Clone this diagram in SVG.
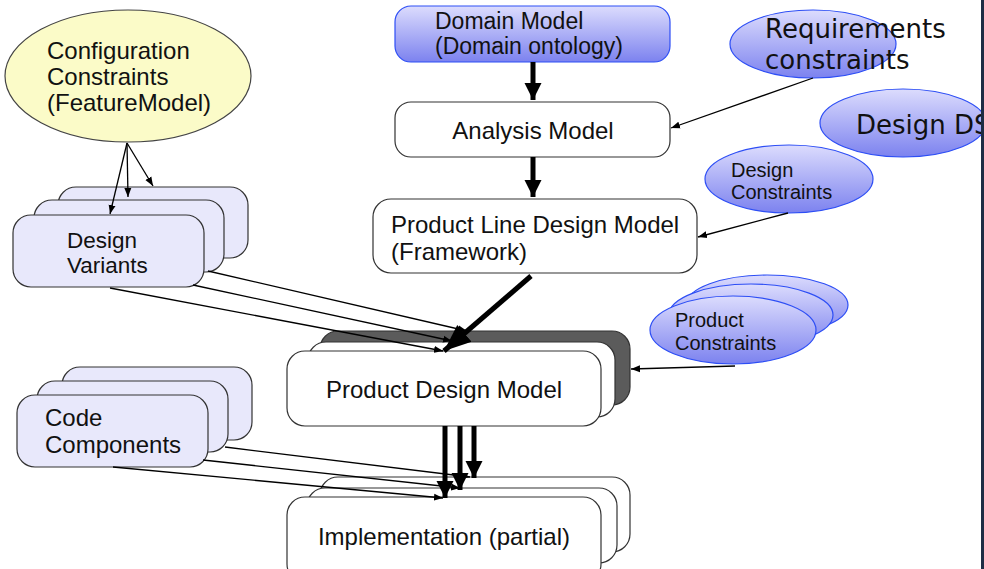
<svg xmlns="http://www.w3.org/2000/svg" width="984" height="569" viewBox="0 0 984 569">
<defs>
<linearGradient id="blueGrad" x1="0" y1="0" x2="0" y2="1">
<stop offset="0" stop-color="#dcdcfd"/>
<stop offset="1" stop-color="#7c82ef"/>
</linearGradient>
<marker id="thin" markerUnits="userSpaceOnUse" markerWidth="10" markerHeight="8" refX="9" refY="4" orient="auto">
<path d="M0,0.5 L9,4 L0,7.5 z" fill="#000"/>
</marker>
<marker id="thick" markerUnits="userSpaceOnUse" markerWidth="18" markerHeight="18" refX="17" refY="9" orient="auto">
<path d="M0,0.5 L17,9 L0,17.5 z" fill="#000"/>
</marker>
<marker id="huge" markerUnits="userSpaceOnUse" markerWidth="28" markerHeight="24" refX="27" refY="12" orient="auto">
<path d="M0,1 L27,12 L0,23 z" fill="#000"/>
</marker>
<clipPath id="page"><rect x="0" y="0" width="981" height="569"/></clipPath>
</defs>
<style>
.box{fill:#fff;stroke:#333;stroke-width:1.2}
.lav{fill:#e8e8fb;stroke:#333;stroke-width:1.2}
.dark{fill:#5b5b5b;stroke:#333;stroke-width:1.2}
.blue{fill:url(#blueGrad);stroke:#2d4ef5;stroke-width:1.2}
.t{font-family:"Liberation Sans",Arial,sans-serif;font-size:24px;fill:#111}
.ts{font-family:"Liberation Sans",Arial,sans-serif;font-size:20px;fill:#111}
.tv{font-family:"DejaVu Sans",Verdana,sans-serif;font-size:26px;fill:#111}
.c{stroke:#000;stroke-width:1.3;fill:none}
.ck{stroke:#000;stroke-width:5;fill:none}
</style>
<rect x="0" y="0" width="984" height="569" fill="#fff"/>

<g id="config">
<ellipse cx="128" cy="76" rx="123" ry="66" fill="#fbfbc8" stroke="#444" stroke-width="1.2"/>
<text class="t" x="47" y="59">Configuration</text>
<text class="t" x="47" y="85">Constraints</text>
<text class="t" x="47" y="111">(FeatureModel)</text>
</g>

<g id="domain">
<rect class="blue" x="395" y="6" width="275" height="56" rx="16"/>
<text class="t" x="435" y="29" style="font-size:23px">Domain Model</text>
<text class="t" x="435" y="54" style="font-size:23px">(Domain ontology)</text>
</g>

<g id="analysis">
<rect class="box" x="395" y="102" width="275" height="55" rx="16"/>
<text class="t" x="533" y="139" text-anchor="middle">Analysis Model</text>
</g>

<g id="pldm">
<rect class="box" x="373" y="199" width="324" height="74" rx="18"/>
<text class="t" x="391" y="233">Product Line Design Model</text>
<text class="t" x="391" y="260">(Framework)</text>
</g>

<g id="requirements">
<ellipse class="blue" cx="813" cy="44" rx="83" ry="34"/>
<text class="tv" x="765" y="38">Requirements</text>
<text class="tv" x="765" y="69">constraints</text>
</g>

<g id="designds" clip-path="url(#page)">
<ellipse class="blue" cx="903" cy="123" rx="83" ry="34"/>
<text class="tv" x="856" y="134">Design DS</text>
</g>

<g id="designconstraints">
<ellipse class="blue" cx="789" cy="179" rx="84" ry="34"/>
<text class="ts" x="731" y="177">Design</text>
<text class="ts" x="731" y="199">Constraints</text>
</g>

<g id="designvariants">
<rect class="lav" x="58" y="187" width="190" height="71" rx="18"/>
<rect class="lav" x="34" y="200" width="190" height="72" rx="18"/>
<rect class="lav" x="13" y="215" width="191" height="72" rx="18"/>
<text class="t" x="67" y="248" style="font-size:22.5px">Design</text>
<text class="t" x="67" y="273" style="font-size:22.5px">Variants</text>
</g>

<g id="productconstraints">
<ellipse class="blue" cx="767" cy="305" rx="81" ry="30"/>
<ellipse class="blue" cx="751" cy="315" rx="82" ry="31"/>
<ellipse class="blue" cx="733" cy="330" rx="83" ry="34"/>
<text class="ts" x="675" y="327">Product</text>
<text class="ts" x="675" y="350">Constraints</text>
</g>

<g id="pdm">
<rect class="dark" x="320" y="331" width="310" height="74" rx="18"/>
<rect class="box" x="308" y="342" width="307" height="75" rx="18"/>
<rect class="box" x="287" y="351" width="314" height="75" rx="18"/>
<text class="t" x="444" y="398" text-anchor="middle">Product Design Model</text>
</g>

<g id="codecomponents">
<rect class="lav" x="62" y="367" width="190" height="73" rx="18"/>
<rect class="lav" x="37" y="381" width="191" height="71" rx="18"/>
<rect class="lav" x="17" y="395" width="191" height="72" rx="18"/>
<text class="t" x="45" y="426">Code</text>
<text class="t" x="45" y="453">Components</text>
</g>

<g id="implementation">
<rect class="box" x="320" y="477" width="310" height="75" rx="18"/>
<rect class="box" x="307" y="488" width="310" height="75" rx="18"/>
<rect class="box" x="287" y="497" width="314" height="85" rx="18"/>
<text class="t" x="444" y="545" text-anchor="middle">Implementation (partial)</text>
</g>

<g id="connectors">
<line class="ck" x1="533" y1="62" x2="533" y2="100" marker-end="url(#thick)"/>
<line class="ck" x1="533" y1="157" x2="533" y2="197" marker-end="url(#thick)"/>
<line class="c" x1="813" y1="78" x2="671" y2="128" marker-end="url(#thin)"/>
<line class="c" x1="788" y1="213" x2="698" y2="237" marker-end="url(#thin)"/>
<line class="c" x1="127" y1="143" x2="110" y2="214" marker-end="url(#thin)"/>
<line class="c" x1="127" y1="143" x2="128" y2="197" marker-end="url(#thin)"/>
<line class="c" x1="127" y1="143" x2="153" y2="186" marker-end="url(#thin)"/>
<line class="c" x1="208" y1="271" x2="467" y2="331" marker-end="url(#thin)"/>
<line class="c" x1="193" y1="285" x2="452" y2="341" marker-end="url(#thin)"/>
<line class="c" x1="110" y1="288" x2="443" y2="351" marker-end="url(#thin)"/>
<line class="ck" x1="531" y1="276" x2="444" y2="351" stroke-width="6" marker-end="url(#huge)"/>
<line class="c" x1="735" y1="366" x2="631" y2="369" marker-end="url(#thin)"/>
<line class="ck" x1="445" y1="426" x2="445" y2="498" marker-end="url(#thick)"/>
<line class="ck" x1="460" y1="426" x2="460" y2="490" marker-end="url(#thick)"/>
<line class="ck" x1="474" y1="426" x2="474" y2="478" marker-end="url(#thick)"/>
<line class="c" x1="225" y1="447" x2="470" y2="477" marker-end="url(#thin)"/>
<line class="c" x1="203" y1="460" x2="460" y2="488" marker-end="url(#thin)"/>
<line class="c" x1="113" y1="467" x2="443" y2="498" marker-end="url(#thin)"/>
</g>

<rect x="981" y="0" width="3" height="569" fill="#1e2d45"/>
</svg>
